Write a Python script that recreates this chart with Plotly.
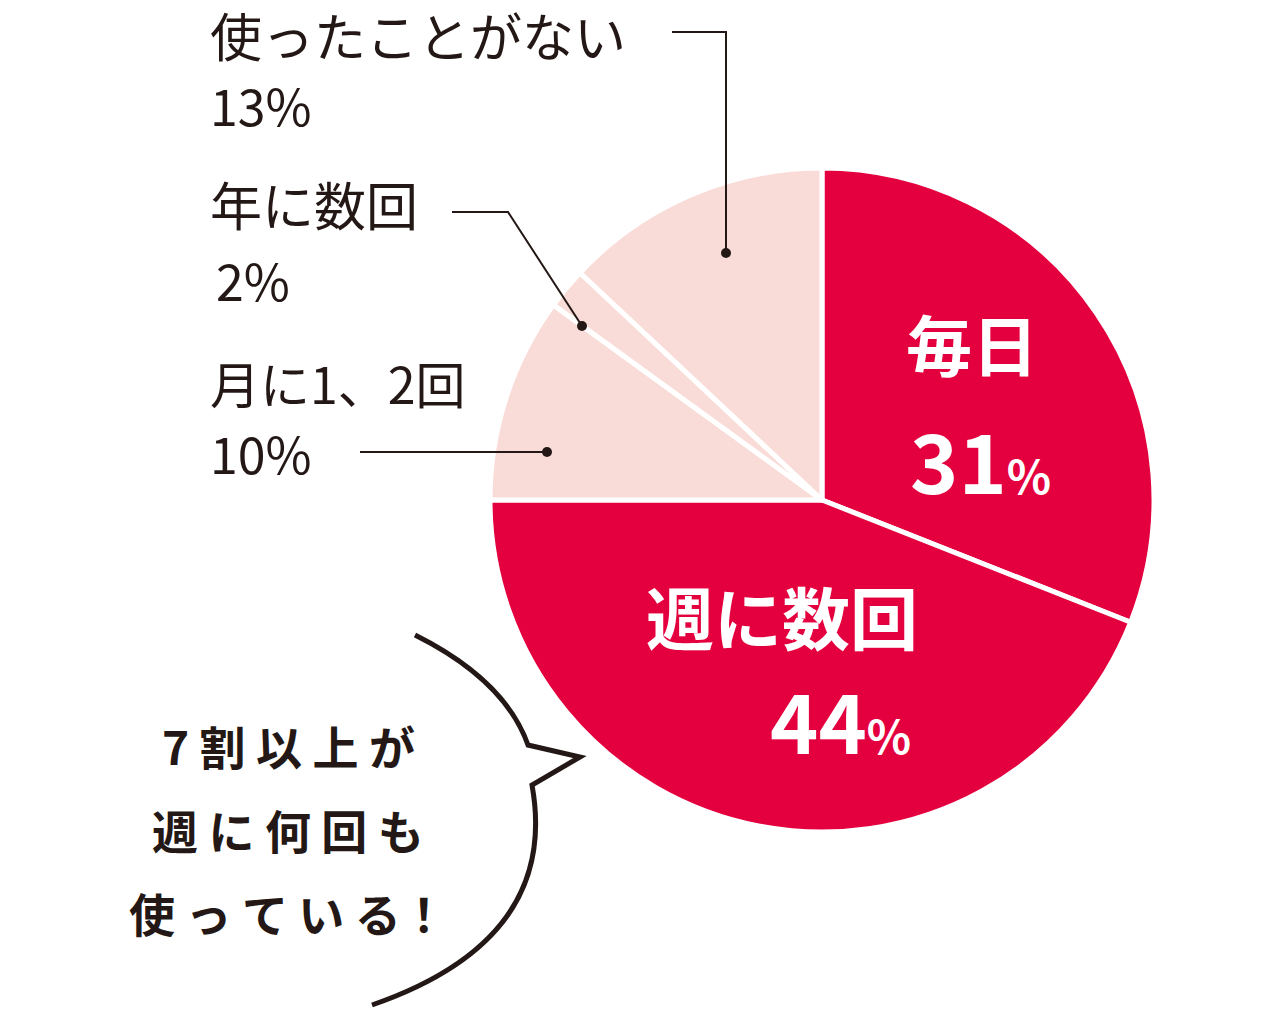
import plotly.graph_objects as go

# data
labels = ["毎日", "週に数回", "月に1、2回", "年に数回", "使ったことがない"]
values = [31, 44, 10, 2, 13]
colors = ["#E4003F", "#E4003F", "#F9DCD8", "#F9DCD8", "#F9DCD8"]

W, H = 1280, 1021
OFF = 8  # page body margin
FONT = "Noto Sans CJK JP"


def px(x, y):
    return (x - OFF) / W, 1 - (y - OFF) / H


c0 = px(822 - 332, 832)
c1 = px(822 + 332, 168)
fig = go.Figure(go.Pie(
    labels=labels, values=values, sort=False, direction="clockwise", rotation=0,
    marker=dict(colors=colors, line=dict(color="white", width=5)),
    textinfo="none", hoverinfo="label+percent", showlegend=False,
    domain=dict(x=[c0[0], c1[0]], y=[c0[1], c1[1]]),
))

ann = []


def text(x, y, t, size, color="#231815", bold=False, align="left", xanchor="left"):
    xx, yy = px(x, y)
    ann.append(dict(x=xx, y=yy, xref="paper", yref="paper", text=t, showarrow=False,
                    xanchor=xanchor, yanchor="middle", align=align,
                    font=dict(family=FONT, size=size, color=color,
                              weight="bold" if bold else "normal")))


# inside labels
text(972, 342, "毎日", 66, "white", True, "center", "center")
text(980, 458, "31<span style='font-size:46px'>%</span>", 82, "white", True, "center", "center")
text(782, 615, "週に数回", 68, "white", True, "center", "center")
text(840, 718, "44<span style='font-size:46px'>%</span>", 82, "white", True, "center", "center")

# outside labels
text(208, 34, "使ったことがない", 52)
text(208, 104, "13%", 50)
text(208, 204, "年に数回", 52)
text(214, 279, "2%", 50)
text(208, 382, "月に1、2回", 50)
text(208, 452, "10%", 50)

# bubble text
text(288, 745, "7 割 以 上 が", 46, bold=True, align="center", xanchor="center")
text(288, 829, "週 に 何 回 も", 46, bold=True, align="center", xanchor="center")
text(288, 912, "使 っ て い る！", 46, bold=True, align="center", xanchor="center")

shapes = []


def line(pts):
    path = "M " + " L ".join(f"{px(a, b)[0]},{px(a, b)[1]}" for a, b in pts)
    shapes.append(dict(type="path", path=path, xref="paper", yref="paper",
                       line=dict(color="#231815", width=2)))


def dot(x, y):
    a, b = px(x, y)
    shapes.append(dict(type="circle", xref="paper", yref="paper",
                       x0=a - 5 / W, x1=a + 5 / W, y0=b - 5 / H, y1=b + 5 / H,
                       fillcolor="#231815", line=dict(width=0)))


line([(672, 32), (726, 32), (726, 253)]); dot(726, 253)
line([(452, 212), (508, 212), (582, 326)]); dot(582, 326)
line([(360, 452), (547, 452)]); dot(547, 452)

# speech bubble
p = lambda a, b: f"{px(a, b)[0]},{px(a, b)[1]}"
bubble = (f"M {p(415, 635)} Q {p(505, 680)} {p(528, 745)} L {p(580, 757)} "
          f"L {p(532, 785)} Q {p(560, 940)} {p(372, 1005)}")
shapes.append(dict(type="path", path=bubble, xref="paper", yref="paper",
                   line=dict(color="#231815", width=5)))

fig.update_layout(width=W, height=H, margin=dict(l=0, r=0, t=0, b=0),
                  paper_bgcolor="white", plot_bgcolor="white",
                  annotations=ann, shapes=shapes)
fig.write_html("out.html")
